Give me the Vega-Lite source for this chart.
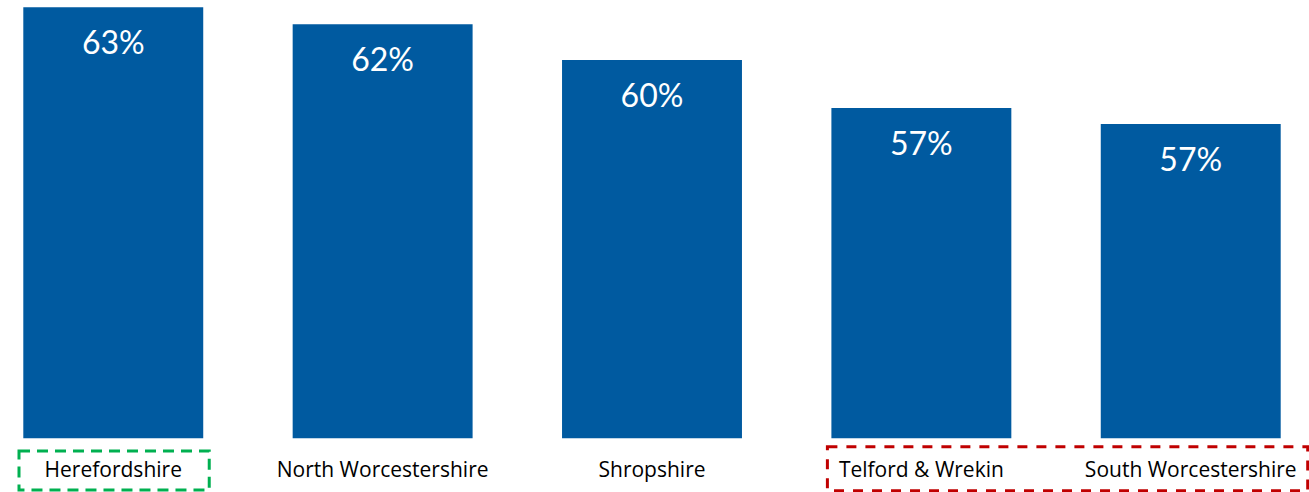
{
  "$schema": "https://vega.github.io/schema/vega-lite/v6.json",
  "width": 1304,
  "height": 492,
  "autosize": {"type": "none"},
  "padding": {"left": 0, "top": 0, "right": 5, "bottom": 0},
  "background": "white",
  "config": {"view": {"stroke": null}},
  "datasets": {
    "bars": [
      {"area": "Herefordshire", "share": 0.6309},
      {"area": "North Worcestershire", "share": 0.6214},
      {"area": "Shropshire", "share": 0.6015},
      {"area": "Telford & Wrekin", "share": 0.5746},
      {"area": "South Worcestershire", "share": 0.5657}
    ],
    "boxes": [
      {"group": "best", "from": "Herefordshire", "to": "Herefordshire", "top": 0.3829, "bottom": 0.3611},
      {"group": "worst", "from": "Telford & Wrekin", "to": "South Worcestershire", "top": 0.3853, "bottom": 0.3607}
    ]
  },
  "encoding": {
    "x": {
      "field": "area",
      "type": "nominal",
      "sort": null,
      "axis": null,
      "scale": {"domain": ["Herefordshire", "North Worcestershire", "Shropshire", "Telford & Wrekin", "South Worcestershire"], "paddingInner": 0.332, "paddingOuter": 0.0865}
    }
  },
  "layer": [
    {
      "data": {"name": "bars"},
      "mark": {"type": "bar", "color": "#005AA0"},
      "encoding": {
        "y": {"field": "share", "type": "quantitative", "axis": null, "scale": {"domain": [0.36, 0.635], "nice": false, "zero": false}},
        "y2": {"datum": 0.39}
      }
    },
    {
      "data": {"name": "bars"},
      "mark": {"type": "text", "color": "white", "font": "Lato", "fontSize": 32, "baseline": "alphabetic", "dy": 47},
      "encoding": {
        "y": {"field": "share", "type": "quantitative"},
        "text": {"field": "share", "type": "quantitative", "format": ".0%"}
      }
    },
    {
      "data": {"name": "bars"},
      "mark": {"type": "text", "color": "#000000", "font": "Open Sans", "fontSize": 21, "baseline": "alphabetic"},
      "encoding": {
        "y": {"datum": 0.3684},
        "text": {"field": "area", "type": "nominal"}
      }
    },
    {
      "data": {"name": "boxes"},
      "transform": [{"filter": "datum.group === 'best'"}],
      "mark": {"type": "rect", "fill": null, "fillOpacity": 0, "stroke": "#00B050", "strokeWidth": 3, "strokeDash": [11, 7], "xOffset": -4.3, "x2Offset": 6},
      "encoding": {
        "x": {"field": "from", "type": "nominal", "bandPosition": 0},
        "x2": {"field": "to", "bandPosition": 1},
        "y": {"field": "top", "type": "quantitative"},
        "y2": {"field": "bottom"}
      }
    },
    {
      "data": {"name": "boxes"},
      "transform": [{"filter": "datum.group === 'worst'"}],
      "mark": {"type": "rect", "fill": null, "fillOpacity": 0, "stroke": "#C00000", "strokeWidth": 3, "strokeDash": [10, 9], "xOffset": -4, "x2Offset": 27},
      "encoding": {
        "x": {"field": "from", "type": "nominal", "bandPosition": 0},
        "x2": {"field": "to", "bandPosition": 1},
        "y": {"field": "top", "type": "quantitative"},
        "y2": {"field": "bottom"}
      }
    }
  ]
}
